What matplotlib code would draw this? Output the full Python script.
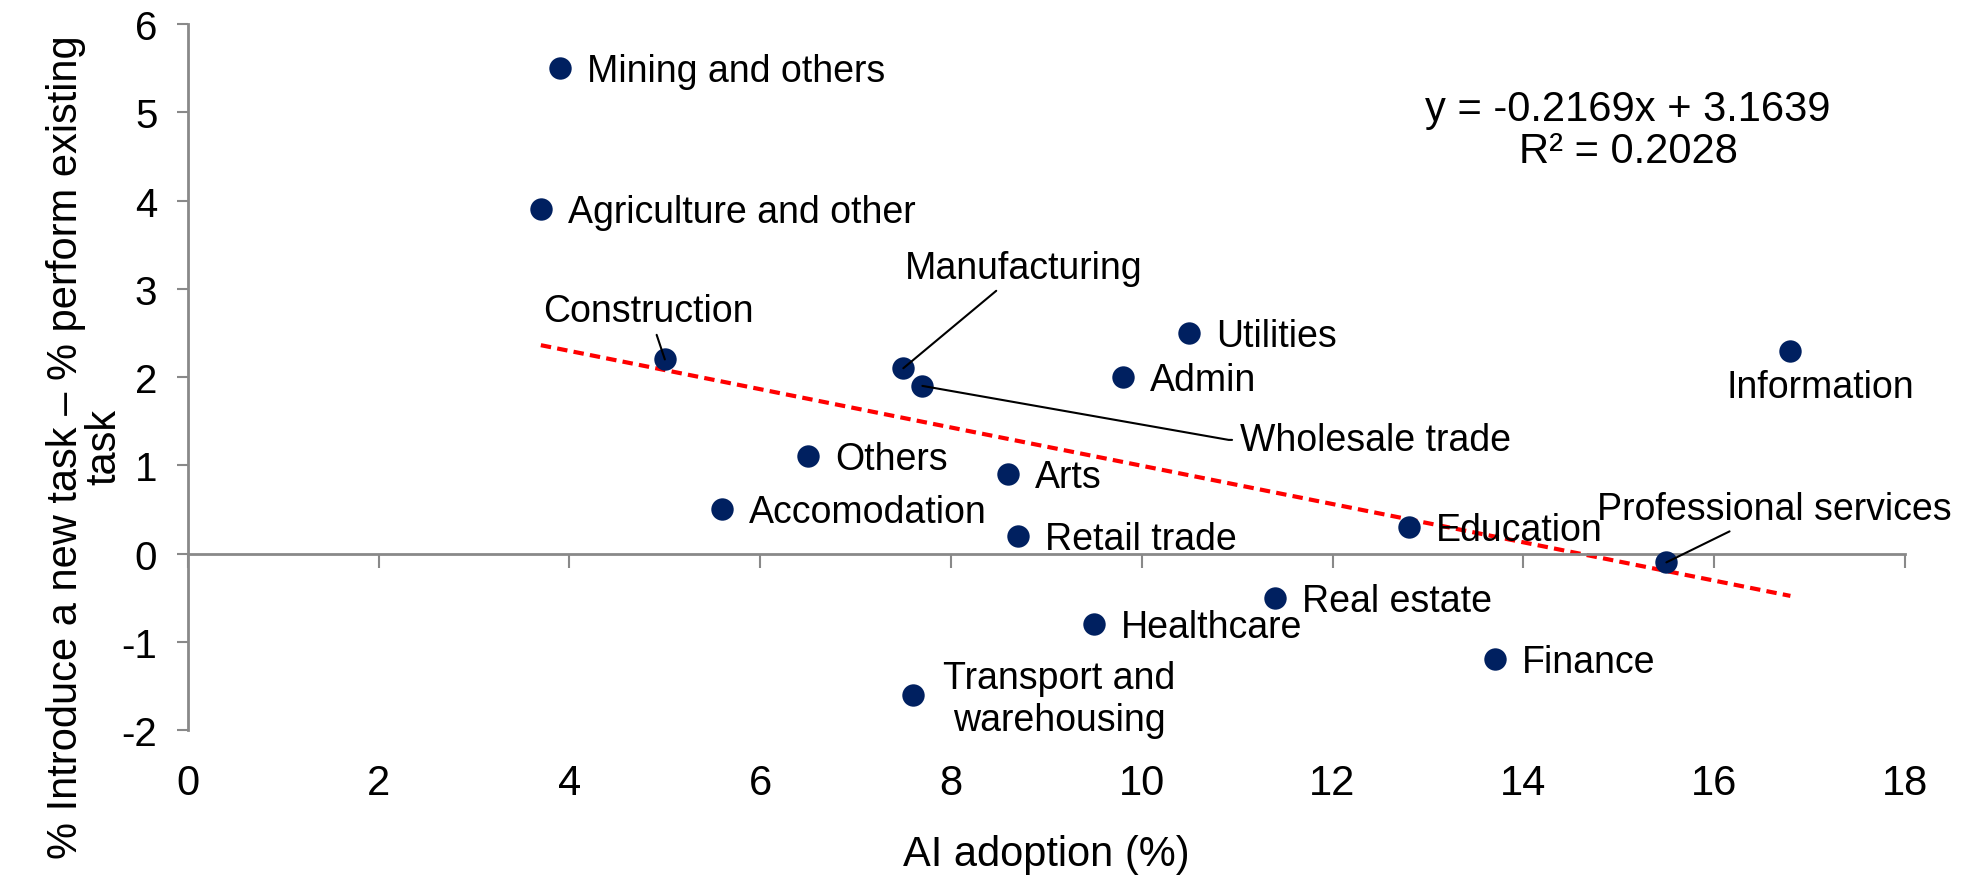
import numpy as np
import matplotlib
matplotlib.use("Agg")
import matplotlib.pyplot as plt

plt.rcParams['font.family'] = ['Liberation Sans', 'DejaVu Sans']
plt.rcParams['axes.unicode_minus'] = False

# data
sectors = ["Mining and others", "Agriculture and other", "Construction", "Manufacturing",
           "Wholesale trade", "Utilities", "Admin", "Information", "Others", "Arts",
           "Accomodation", "Retail trade", "Education", "Professional services",
           "Real estate", "Healthcare", "Finance", "Transport and\nwarehousing"]
ai_adoption = [3.9, 3.7, 5.0, 7.5, 7.7, 10.5, 9.8, 16.8, 6.5, 8.6,
               5.6, 8.7, 12.8, 15.5, 11.4, 9.5, 13.7, 7.6]
task_diff = [5.5, 3.9, 2.2, 2.1, 1.9, 2.5, 2.0, 2.3, 1.1, 0.9,
             0.5, 0.2, 0.3, -0.1, -0.5, -0.8, -1.2, -1.6]
slope, intercept, r2 = -0.2169, 3.1639, 0.2028
xticks = [0, 2, 4, 6, 8, 10, 12, 14, 16, 18]
yticks = [-2, -1, 0, 1, 2, 3, 4, 5, 6]

# label placement: offset in pixels from the point, ha, va, leader line style
right = ((27, -13), 'left', 'baseline', None)
straight = dict(arrowstyle='-', color='black', lw=1.5, shrinkA=2, shrinkB=0)
placement = {
    "Construction": ((-16, 38), 'center', 'baseline', straight),
    "Manufacturing": ((120, 90), 'center', 'baseline', straight),
    "Wholesale trade": ((318, -64), 'left', 'baseline',
                        dict(straight, relpos=(0, 0.5), shrinkA=4,
                             connectionstyle="angle,angleA=0,angleB=-10,rad=0")),
    "Information": ((30, -46), 'center', 'baseline', None),
    "Professional services": ((108, 43), 'center', 'baseline', straight),
    "Transport and\nwarehousing": ((30, -4), 'left', 'center', None),
}

fig = plt.figure(figsize=(19.76, 8.78), dpi=100)
ax = fig.add_axes([0.0951, 0.1674, 0.8689, 0.804])

grey = '#898989'
ax.set_xlim(0, 18)
ax.set_ylim(-2, 6)
ax.spines['top'].set_visible(False)
ax.spines['right'].set_visible(False)
ax.spines['bottom'].set_position(('data', 0))
for s in ['left', 'bottom']:
    ax.spines[s].set_color(grey)
    ax.spines[s].set_linewidth(2)
ax.set_xticks(xticks)
ax.set_yticks(yticks)
ax.tick_params(axis='x', direction='out', length=10, width=1.5, color=grey, labelbottom=False)
ax.tick_params(axis='y', direction='out', length=8, width=1.5, color=grey, labelsize=29, pad=14)

# x tick labels sit below the plot, not on the zero line
for v in xticks:
    ax.annotate(str(v), xy=(v, -2), xytext=(0, -53), textcoords='offset pixels',
                ha='center', va='center', fontsize=30, annotation_clip=False)

# trend line
xs = np.array([min(ai_adoption), max(ai_adoption)])
ax.plot(xs, slope * xs + intercept, color='#FF0000', lw=3, dashes=(2.5, 1.5), zorder=2)

ax.scatter(ai_adoption, task_diff, s=260, color='#002060', zorder=3, linewidths=0)

for name, x, y in zip(sectors, ai_adoption, task_diff):
    off, ha, va, leader = placement.get(name, right)
    kw = {}
    if leader:
        kw['arrowprops'] = leader
    ax.annotate(name, xy=(x, y), xytext=off, textcoords='offset pixels',
                ha=ha, va=va, fontsize=27, linespacing=1.2, multialignment='center',
                zorder=4, **kw)

ax.text(15.1, 4.80, f"y = {slope}x + {intercept}\nR² = {r2}", ha='center', va='center',
        fontsize=30, linespacing=1.05)

ax.set_xlabel("AI adoption (%)", fontsize=30)
ax.xaxis.set_label_coords(0.5, -0.147)
fig.text(0.043, 0.491, "% Introduce a new task – % perform existing\ntask", rotation=90,
         ha='center', va='center', fontsize=30, multialignment='center', linespacing=0.95)

fig.savefig("out.png", dpi=100)
